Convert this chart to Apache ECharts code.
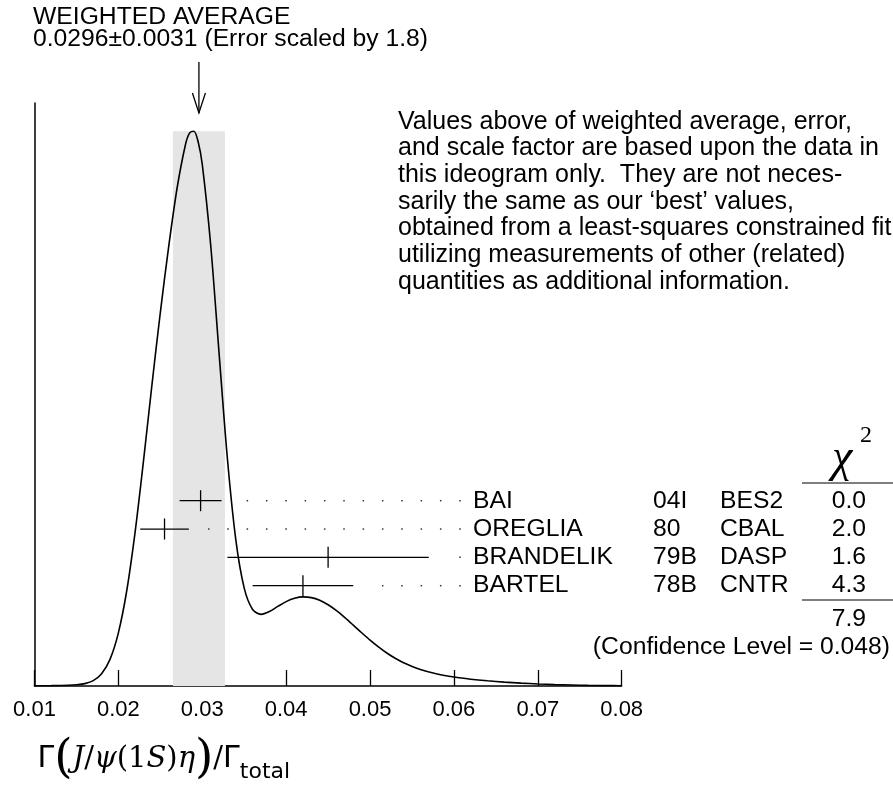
<!DOCTYPE html>
<html>
<head>
<meta charset="utf-8">
<script src="https://cdn.jsdelivr.net/npm/echarts@6/dist/echarts.min.js"></script>
<style>
html,body{margin:0;padding:0;background:#fff;}
#chart{width:893px;height:795px;}
</style>
</head>
<body>
<div id="chart"></div>
<script>
// ---------- data ----------
const xTickMin = 0.01, xTickMax = 0.08, xTickStep = 0.01;
const curveX = [0.010,0.012,0.014,0.015,0.016,0.017,0.018,0.019,0.020,0.021,0.022,0.023,0.024,0.025,0.026,0.027,0.028,0.0285,0.029,0.0295,0.030,0.031,0.032,0.033,0.034,0.035,0.036,0.037,0.038,0.039,0.040,0.041,0.042,0.043,0.044,0.045,0.046,0.047,0.048,0.049,0.050,0.051,0.052,0.053,0.054,0.056,0.058,0.060,0.062,0.064,0.066,0.068,0.070,0.072,0.074,0.076,0.078,0.080];
const curveY = [0.04,0.07,0.13,0.21,0.41,0.92,2.10,4.57,9.12,16.38,26.49,38.71,51.65,64.06,75.40,85.42,92.89,94.87,95.15,93.40,89.46,75.69,57.14,38.94,25.07,16.79,13.13,12.29,12.77,13.65,14.47,15.04,15.28,15.16,14.70,13.93,12.91,11.72,10.44,9.13,7.87,6.71,5.66,4.75,3.98,2.83,2.06,1.54,1.17,0.89,0.67,0.49,0.35,0.24,0.17,0.11,0.07,0.04];
const names  = ['BAI','OREGLIA','BRANDELIK','BARTEL'];
const years  = ['04I','80','79B','78B'];
const techs  = ['BES2','CBAL','DASP','CNTR'];
const values = [0.0298,0.0255,0.0450,0.0420];
const errors = [0.0025,0.0029,0.0120,0.0060];
const chi2   = ['0.0','2.0','1.6','4.3'];
const chi2Total = '7.9';
const confLevel = '0.048';
const avgValue = 0.0296, avgError = 0.0031, errScale = '1.8';
const paragraph = [
  'Values above of weighted average, error,',
  'and scale factor are based upon the data in',
  'this ideogram only.  They are not neces-',
  'sarily the same as our \u2018best\u2019 values,',
  'obtained from a least-squares constrained fit',
  'utilizing measurements of other (related)',
  'quantities as additional information.'
];

// ---------- layout ----------
const FONT = '"Liberation Sans", Arial, Helvetica, sans-serif';
const FS = 24.7;
const ROW0 = 500.7, ROWSTEP = 28.33;
const COL_NAME = 473, COL_YEAR = 653, COL_TECH = 720, COL_CHI = 866;
const DOT_LAST = 460, DOT_STEP = 19.33;

const chart = echarts.init(document.getElementById('chart'), null, {renderer: 'canvas'});

const curveData = curveX.map((x, i) => [x, curveY[i]]);
const peak = Math.max.apply(null, curveY);
const barData = values.map((v, i) => [v, errors[i], i]);

function renderBar(params, api) {
  const i = api.value(2), v = api.value(0), e = api.value(1);
  const y = ROW0 + i * ROWSTEP;
  const xl = api.coord([v - e, 0])[0];
  const xr = api.coord([v + e, 0])[0];
  const xc = api.coord([v, 0])[0];
  const st = {stroke: '#000', lineWidth: 1.3};
  const children = [
    {type: 'line', shape: {x1: xl, y1: y, x2: xr, y2: y}, style: st},
    {type: 'line', shape: {x1: xc, y1: y - 10.5, x2: xc, y2: y + 10.5}, style: st}
  ];
  for (let k = 0; ; k++) {
    const dx = DOT_LAST - k * DOT_STEP;
    if (dx < xr + 15) break;
    children.push({type: 'rect', shape: {x: dx - 0.75, y: y - 0.75, width: 1.5, height: 1.5}, style: {fill: '#333'}});
  }
  const ts = (t, x, align) => ({type: 'text', style: {text: t, x: x, y: y, fill: '#000', fontSize: FS, fontFamily: FONT, align: align, verticalAlign: 'middle'}});
  children.push(ts(names[i], COL_NAME, 'left'));
  children.push(ts(years[i], COL_YEAR, 'left'));
  children.push(ts(techs[i], COL_TECH, 'left'));
  children.push(ts(chi2[i], COL_CHI, 'right'));
  return {type: 'group', children: children};
}

const option = {
  animation: false,
  backgroundColor: '#fff',
  grid: {left: 34.5, right: 271.3, top: 103, bottom: 109, containLabel: false},
  xAxis: {
    type: 'value', min: xTickMin, max: xTickMax, interval: xTickStep,
    axisLine: {show: true, lineStyle: {color: '#000', width: 1.5}},
    axisTick: {show: true, inside: true, length: 16, lineStyle: {color: '#000', width: 1.3}},
    splitLine: {show: false},
    axisLabel: {color: '#000', fontSize: 22, fontFamily: FONT, margin: 13,
      formatter: v => v.toFixed(2)},
    name: '{g|\u0393}{bp|(}{i|J}{r|/}{i|\u03c8}{r|(1}{i|S}{r|)}{i|\u03b7}{bp|)}{r|/}{g|\u0393}{sub|total}',
    nameLocation: 'start', nameGap: -3,
    nameTextStyle: {
      align: 'left', verticalAlign: 'top', padding: [50, 0, 0, 0],
      rich: {
        g: {fontFamily: '"DejaVu Sans", sans-serif', fontSize: 30, color: '#000'},
        bp: {fontFamily: '"DejaVu Serif", serif', fontSize: 47, color: '#000'},
        i: {fontFamily: '"DejaVu Serif", serif', fontStyle: 'italic', fontSize: 29, color: '#000'},
        r: {fontFamily: '"DejaVu Serif", serif', fontSize: 29, color: '#000'},
        sub: {fontFamily: '"DejaVu Sans", sans-serif', fontSize: 22, color: '#000', verticalAlign: 'bottom', lineHeight: 30}
      }
    }
  },
  yAxis: {
    type: 'value', min: 0, max: 100,
    axisLine: {show: true, onZero: false, lineStyle: {color: '#000', width: 1.5}},
    axisTick: {show: false}, axisLabel: {show: false}, splitLine: {show: false}
  },
  series: [
    {
      type: 'line', data: [], z: 1, silent: true,
      markArea: {silent: true, itemStyle: {color: '#e5e5e5'},
        data: [[{xAxis: avgValue - avgError, yAxis: 0}, {xAxis: avgValue + avgError, yAxis: peak}]]}
    },
    {
      type: 'line', data: curveData, z: 3, smooth: 0.3, showSymbol: false, symbol: 'none',
      lineStyle: {color: '#000', width: 1.6}
    },
    {
      type: 'custom', data: barData, z: 4, renderItem: renderBar, clip: false,
      encode: {x: 0, y: 2}
    }
  ]
};
chart.setOption(option);

const ax = chart.convertToPixel({xAxisIndex: 0}, avgValue);
const txt = (t, x, y, extra) => Object.assign({type: 'text', x: x, y: y,
  style: Object.assign({text: t, fill: '#000', fontSize: FS, fontFamily: FONT, align: 'left', verticalAlign: 'middle'}, extra || {})});

chart.setOption({
  graphic: [
    txt('WEIGHTED AVERAGE', 33, 17),
    txt(avgValue.toFixed(4) + '\u00b1' + avgError.toFixed(4) + ' (Error scaled by ' + errScale + ')', 33, 39),
    {type: 'line', shape: {x1: ax, y1: 62, x2: ax, y2: 113}, style: {stroke: '#000', lineWidth: 1.3}},
    {type: 'polyline', shape: {points: [[ax - 6.5, 93], [ax, 113], [ax + 6.5, 93]]}, style: {stroke: '#000', lineWidth: 1.3, fill: null}},
    txt(paragraph.join('\n'), 398, 108.3, {verticalAlign: 'top', lineHeight: 26.7, fontSize: 25}),
    {type: 'text', x: 842, y: 459, style: {text: '\u03c7', fill: '#000', fontSize: 46, fontStyle: 'italic', fontFamily: '"Liberation Serif", serif', align: 'center', verticalAlign: 'middle'}},
    {type: 'text', x: 866, y: 436, style: {text: '2', fill: '#000', fontSize: 24, fontFamily: '"Liberation Serif", serif', align: 'center', verticalAlign: 'middle'}},
    {type: 'line', shape: {x1: 802, y1: 483, x2: 893, y2: 483}, style: {stroke: '#000', lineWidth: 1.2}},
    {type: 'line', shape: {x1: 802, y1: 600, x2: 893, y2: 600}, style: {stroke: '#000', lineWidth: 1.2}},
    txt(chi2Total, COL_CHI, 619, {align: 'right'}),
    txt('(Confidence Level = ' + confLevel + ')', 890, 647, {align: 'right'})
  ]
});
</script>
</body>
</html>
